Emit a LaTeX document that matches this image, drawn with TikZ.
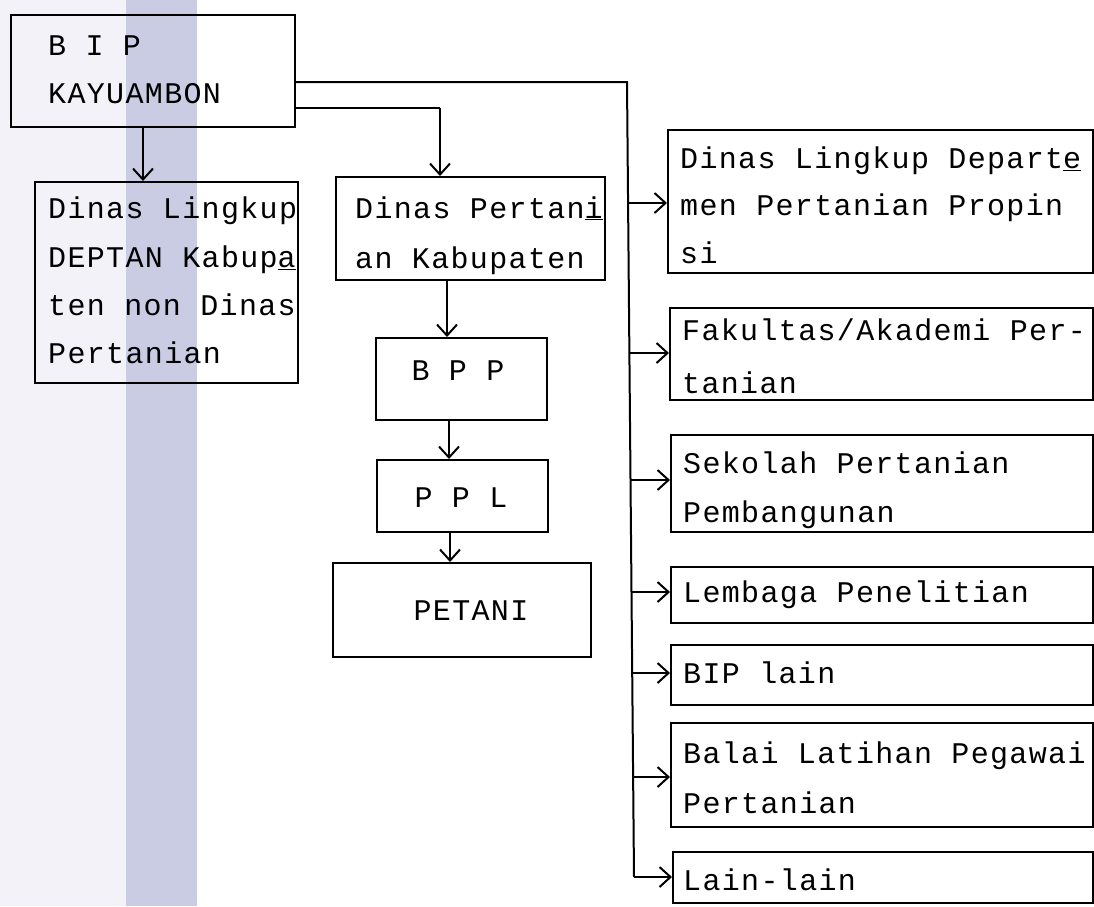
\documentclass[tikz,border=0pt]{standalone}
\usepackage{fontspec}
\newfontfamily\tw{Liberation Mono}[LetterSpace=4.5]
\usetikzlibrary{arrows.meta,fit}
\definecolor{bandlight}{RGB}{242,242,248}
\definecolor{band}{RGB}{202,204,228}
\tikzset{
  box/.style={draw=black, line width=2pt, inner sep=0pt},
  txt/.style={font=\tw\fontsize{30}{36}\selectfont, inner sep=0pt, anchor=base west, text=black},
  ctxt/.style={txt, anchor=base},
  arr/.style={line width=2pt, -{Straight Barb[length=11pt,width=20pt,line width=2pt]}},
  ln/.style={line width=2pt}
}
\begin{document}
\begin{tikzpicture}[x=1pt,y=-1pt]
\useasboundingbox (0,0) rectangle (1094,906);
\fill[white] (0,0) rectangle (1094,906);
\fill[bandlight] (0,0) rectangle (126,906);
\fill[band] (126,0) rectangle (197,906);

% boxes
\node[box, fit={(11,15) (295,127)}] (bip) {};
\node[box, fit={(35,182) (298,383)}] (deptan) {};
\node[box, fit={(336,177) (605,280)}] (dp) {};
\node[box, fit={(376,338) (547,420)}] (bpp) {};
\node[box, fit={(377,460) (548,532)}] (ppl) {};
\node[box, fit={(333,563) (591,657)}] (petani) {};
\node[box, fit={(668,130) (1093,273)}] (r1) {};
\node[box, fit={(670,308) (1093,400)}] (r2) {};
\node[box, fit={(671,435) (1093,532)}] (r3) {};
\node[box, fit={(671,567) (1093,623)}] (r4) {};
\node[box, fit={(671,645) (1093,705)}] (r5) {};
\node[box, fit={(671,723) (1093,827)}] (r6) {};
\node[box, fit={(673,852) (1093,903)}] (r7) {};

% texts
\node[txt] (bipa) at (48,55) {B I P};
\node[txt] (bipb) at (48,103) {KAYUAMBON};
\node[txt] (dea) at (48,218) {Dinas Lingkup};
\node[txt] (deb) at (48,267) {DEPTAN Kabup\underline{a}};
\node[txt] (dec) at (48,315) {ten non Dinas};
\node[txt] (ded) at (48,363) {Pertanian};
\node[txt] (dpa) at (355,218) {Dinas Pertan\underline{i}};
\node[txt] (dpb) at (355,268) {an Kabupaten};
\node[ctxt] (bppt) at (458,380) {B P P};
\node[ctxt] (pplt) at (461,507) {P P L};
\node[ctxt] (pett) at (471,620) {PETANI};
\node[txt] (r1a) at (680,168) {Dinas Lingkup Depart\underline{e}};
\node[txt] (r1b) at (680,215) {men Pertanian Propin};
\node[txt] (r1c) at (680,263) {si};
\node[txt] (r2a) at (682,340) {Fakultas/Akademi Per-};
\node[txt] (r2b) at (682,393) {tanian};
\node[txt] (r3a) at (683,473) {Sekolah Pertanian};
\node[txt] (r3b) at (683,522) {Pembangunan};
\node[txt] (r4a) at (683,602) {Lembaga Penelitian};
\node[txt] (r5a) at (683,683) {BIP lain};
\node[txt] (r6a) at (683,763) {Balai Latihan Pegawai};
\node[txt] (r6b) at (683,813) {Pertanian};
\node[txt] (r7a) at (683,890) {Lain-lain};

% connectors
\coordinate (c1) at (143,0);
\draw[arr] (c1 |- bip.south) -- (c1 |- deptan.north);

\coordinate (k) at (440,108);
\draw[ln] (k -| bip.east) -- (k);
\draw[arr] (k) -- (k |- dp.north);

\coordinate (c2) at (447,0);
\draw[arr] (c2 |- dp.south) -- (c2 |- bpp.north);
\coordinate (c3) at (449,0);
\draw[arr] (c3 |- bpp.south) -- (c3 |- ppl.north);
\coordinate (c4) at (450,0);
\draw[arr] (c4 |- ppl.south) -- (c4 |- petani.north);

\coordinate (ttop) at (627,82);
\coordinate (j1) at (628,203);
\coordinate (j2) at (629,353);
\coordinate (j3) at (630,480);
\coordinate (j4) at (631,592);
\coordinate (j5) at (632,673);
\coordinate (j6) at (633,777);
\coordinate (j7) at (634,877);
\draw[ln] (ttop -| bip.east) -- (ttop) -- (j7);
\draw[arr] (j1) -- (j1 -| r1.west);
\draw[arr] (j2) -- (j2 -| r2.west);
\draw[arr] (j3) -- (j3 -| r3.west);
\draw[arr] (j4) -- (j4 -| r4.west);
\draw[arr] (j5) -- (j5 -| r5.west);
\draw[arr] (j6) -- (j6 -| r6.west);
\draw[arr] (j7) -- (j7 -| r7.west);
\end{tikzpicture}
\end{document}
